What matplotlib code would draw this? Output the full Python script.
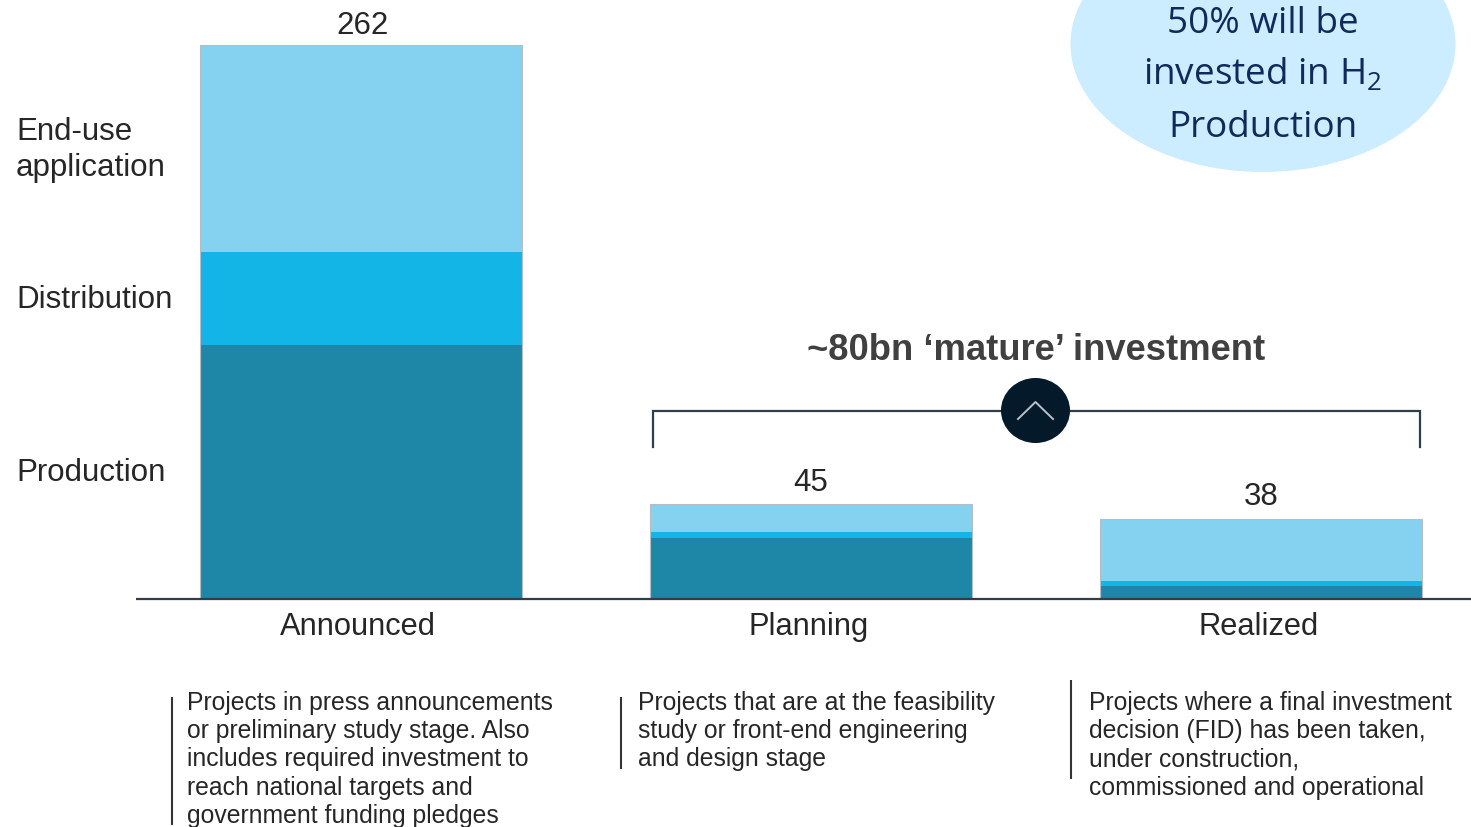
import matplotlib
matplotlib.use("Agg")
import matplotlib.pyplot as plt
from matplotlib.patches import Ellipse

plt.rcParams['font.family'] = ['Liberation Sans', 'DejaVu Sans']

W, H = 1471, 827

stages = ['Announced', 'Planning', 'Realized']
totals = [262, 45, 38]
production = [120, 29, 6]
distribution = [44, 2.5, 2.5]
end_use = [98, 13.5, 29.5]

segment_names = ['Production', 'Distribution', 'End-use\napplication']
segment_colors = ['#1E87A8', '#12B5E5', '#84D1F0']

descriptions = [
    "Projects in press announcements\nor preliminary study stage. Also\n"
    "includes required investment to\nreach national targets and\n"
    "government funding pledges",
    "Projects that are at the feasibility\nstudy or front-end engineering\n"
    "and design stage",
    "Projects where a final investment\ndecision (FID) has been taken,\n"
    "under construction,\ncommissioned and operational",
]

TEXT = '#262626'
LINE = '#2F3E48'

fig = plt.figure(figsize=(W / 100, H / 100), dpi=100)

# bars live in their own axes, the rest is placed in pixel space on top
ax = fig.add_axes([0, (H - 599) / H, 1, 599 / H])
ax.set_xlim(-361 / 450, (W - 361) / 450)
ax.set_ylim(0, 599 / 2.1145)
ax.axis('off')

xs = [0, 1, 2]
bottom = [0, 0, 0]
for vals, col in zip([production, distribution, end_use], segment_colors):
    ax.bar(xs, vals, width=0.715, bottom=bottom, color=col, linewidth=0)
    bottom = [b + v for b, v in zip(bottom, vals)]

# thin grey rim around each stack
ax.bar(xs, bottom, width=0.715, fill=False, edgecolor='#B5BEC4', linewidth=0.8)

over = fig.add_axes([0, 0, 1, 1], facecolor='none')
over.set_xlim(0, W)
over.set_ylim(H, 0)
over.axis('off')

# totals above the stacks
for total, x, y in zip(totals, [363, 811, 1261], [26, 483, 497]):
    over.text(x, y, str(total), ha='center', va='center', fontsize=22.5, color=TEXT)

# baseline
over.plot([136, W], [599, 599], color=LINE, lw=1.6, solid_capstyle='butt')

for name, x in zip(stages, [358, 809, 1259]):
    over.text(x, 627, name, ha='center', va='center', fontsize=22.2, color=TEXT)

for name, y in zip(segment_names, [473, 300, 150]):
    over.text(16, y, name, ha='left', va='center', fontsize=22.5, color=TEXT,
              linespacing=1.25)

# bracket and chevron badge
over.plot([653, 653, 1420, 1420], [447, 410.5, 410.5, 447], color=LINE, lw=1.6,
          solid_joinstyle='miter')
over.add_patch(Ellipse((1035.5, 410.5), 69, 65, facecolor='#041A2B', edgecolor='none', zorder=3))
over.plot([1018, 1035.5, 1053], [419, 402, 419], color='#B8C2C8', lw=1.4, zorder=4)
over.text(1036, 351, "~80bn \u2018mature\u2019 investment", ha='center', va='center',
          fontsize=26.2, fontweight='bold', color='#404040')

# callout
over.add_patch(Ellipse((1263, 44), 385, 256, facecolor='#CCECFF', edgecolor='none', clip_on=True))
CALLOUT = '#0F2B5B'
callout_font = ['Open Sans', 'DejaVu Sans']
callout_lines = ["50% will be", "invested in H$_{\\mathregular{2}}$", "Production"]
for line, y in zip(callout_lines, [33, 85, 137]):
    over.text(1263, y, line, ha='center', va='baseline', fontsize=26.6,
              color=CALLOUT, family=callout_font)

# stage descriptions with a rule on the left
rule_x = [172, 621, 1071]
rule_y = [(697, 825), (697, 769), (680, 779)]
text_x = [187, 638, 1089]
for rx, (y0, y1), tx, desc in zip(rule_x, rule_y, text_x, descriptions):
    over.plot([rx, rx], [y0, y1], color='#333333', lw=1.5, solid_capstyle='butt')
    over.text(tx, 691, desc, ha='left', va='top', fontsize=17.85, color=TEXT,
              linespacing=1.22)

fig.savefig('out.png', dpi=100)
